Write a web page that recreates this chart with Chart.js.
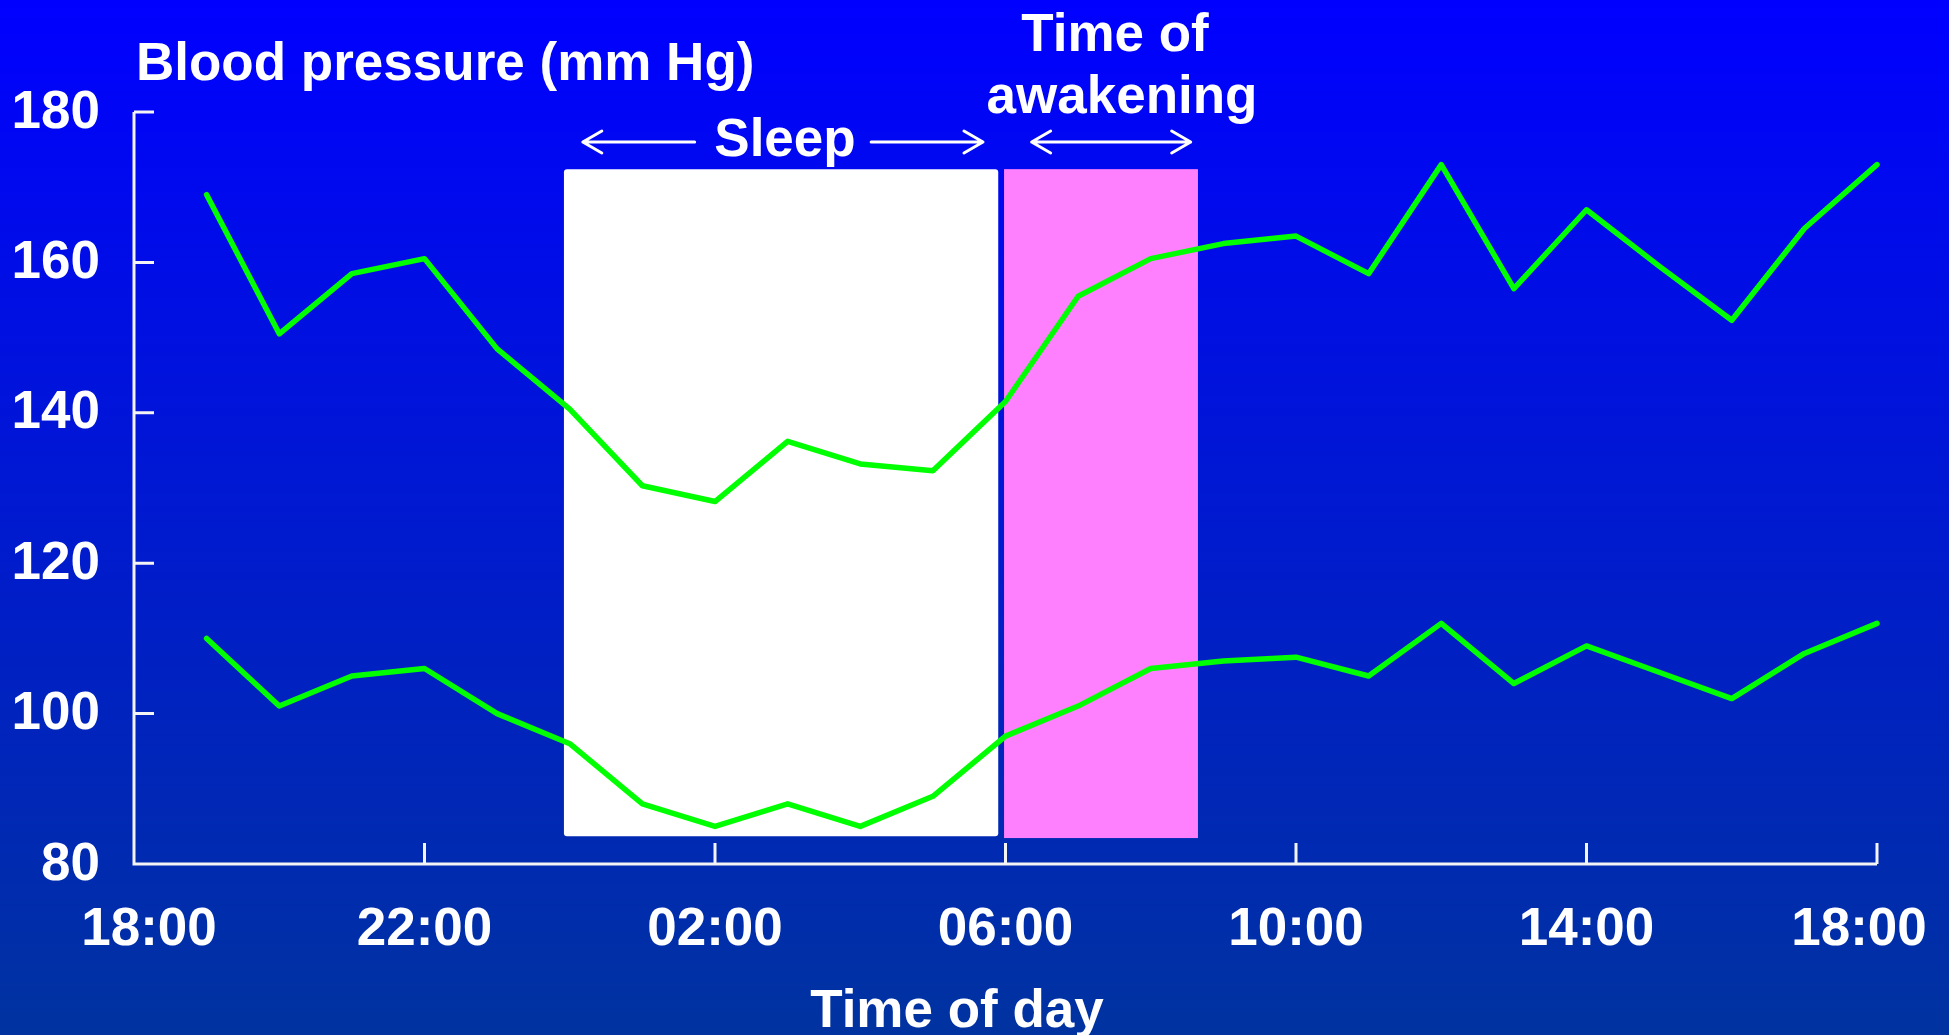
<!DOCTYPE html>
<html>
<head>
<meta charset="utf-8">
<script src="https://cdn.jsdelivr.net/npm/chart.js@4"></script>
<style>
  html, body { margin: 0; padding: 0; overflow: hidden; background: #0000ff; }
  #bp { display: block; }
</style>
</head>
<body>
<canvas id="bp" width="1949" height="1035"></canvas>
<script>
// hours after 18:00, one reading per hour
const hours = [1, 2, 3, 4, 5, 6, 7, 8, 9, 10, 11, 12, 13, 14, 15, 16, 17, 18, 19, 20, 21, 22, 23, 24];
const systolic = [169, 150.5, 158.5, 160.5, 148.5, 140.5, 130.3, 128.2, 136.2, 133.2, 132.3, 141.5, 155.5, 160.5, 162.5, 163.5, 158.5, 173, 156.5, 167, 159.5, 152.3, 164.5, 173];
const diastolic = [110, 101, 105, 106, 100, 96, 88, 85, 88, 85, 89, 97, 101, 106, 107, 107.5, 105, 112, 104, 109, 105.5, 102, 108, 112];

const xTicks = [0, 4, 8, 12, 16, 20, 24];
const xTickLabels = ["18:00", "22:00", "02:00", "06:00", "10:00", "14:00", "18:00"];
const yTicks = [80, 100, 120, 140, 160, 180];

// shaded periods [start hour, end hour], [low, high] in mm Hg
const sleepBand = [5.92, 11.9];
const sleepRange = [83.7, 172.4];
const wakeBand = [11.98, 14.65];
const wakeRange = [83.45, 172.4];

const FONT = "bold 53px 'Liberation Sans', Arial, sans-serif";

function arrow(ctx, x1, x2, y, headLeft, headRight) {
  ctx.beginPath();
  ctx.moveTo(x1, y);
  ctx.lineTo(x2, y);
  if (headLeft) {
    ctx.moveTo(x1 + 19, y - 11);
    ctx.lineTo(x1, y);
    ctx.lineTo(x1 + 19, y + 11);
  }
  if (headRight) {
    ctx.moveTo(x2 - 19, y - 11);
    ctx.lineTo(x2, y);
    ctx.lineTo(x2 - 19, y + 11);
  }
  ctx.stroke();
}

const drawBits = {
  id: "drawBits",
  beforeDraw(chart) {
    const ctx = chart.ctx;
    const g = ctx.createLinearGradient(0, 0, 0, chart.height);
    g.addColorStop(0, "#0000ff");
    g.addColorStop(1, "#0033a0");
    ctx.save();
    ctx.fillStyle = g;
    ctx.fillRect(0, 0, chart.width, chart.height);
    ctx.restore();
  },
  beforeDatasetsDraw(chart) {
    const ctx = chart.ctx;
    const x = chart.scales.x, y = chart.scales.y;
    ctx.save();
    // sleep and awakening boxes
    ctx.fillStyle = "#ffffff";
    ctx.beginPath();
    ctx.roundRect(x.getPixelForValue(sleepBand[0]), y.getPixelForValue(sleepRange[1]),
      x.getPixelForValue(sleepBand[1]) - x.getPixelForValue(sleepBand[0]),
      y.getPixelForValue(sleepRange[0]) - y.getPixelForValue(sleepRange[1]), 3);
    ctx.fill();
    ctx.fillStyle = "#ff80ff";
    ctx.fillRect(x.getPixelForValue(wakeBand[0]), y.getPixelForValue(wakeRange[1]),
      x.getPixelForValue(wakeBand[1]) - x.getPixelForValue(wakeBand[0]),
      y.getPixelForValue(wakeRange[0]) - y.getPixelForValue(wakeRange[1]));

    // axes, ticks pointing inward
    const left = x.getPixelForValue(0), right = x.getPixelForValue(24);
    const top = y.getPixelForValue(180), bottom = y.getPixelForValue(80);
    ctx.strokeStyle = "#f4f4f4";
    ctx.lineWidth = 3;
    ctx.beginPath();
    ctx.moveTo(left, top);
    ctx.lineTo(left, bottom);
    ctx.lineTo(right, bottom);
    yTicks.forEach(v => {
      const py = y.getPixelForValue(v);
      ctx.moveTo(left, py);
      ctx.lineTo(left + 20, py);
    });
    xTicks.forEach(v => {
      const px = x.getPixelForValue(v);
      ctx.moveTo(px, bottom);
      ctx.lineTo(px, bottom - 21);
    });
    ctx.stroke();
    ctx.restore();
  },
  afterDraw(chart) {
    const ctx = chart.ctx;
    const x = chart.scales.x, y = chart.scales.y;
    ctx.save();
    ctx.fillStyle = "#ffffff";
    ctx.font = FONT;

    // y tick labels
    ctx.textAlign = "right";
    ctx.textBaseline = "middle";
    yTicks.forEach(v => ctx.fillText(String(v), 100, y.getPixelForValue(v) + 1));

    // x tick labels (end ones pulled in a little, as in the slide)
    ctx.textAlign = "center";
    ctx.textBaseline = "alphabetic";
    xTicks.forEach((v, i) => {
      let px = x.getPixelForValue(v);
      if (i === 0) px += 15;
      if (i === xTicks.length - 1) px -= 18;
      ctx.fillText(xTickLabels[i], px, 945);
    });

    ctx.fillText("Time of day", 957, 1027);

    ctx.textAlign = "left";
    ctx.fillText("Blood pressure (mm Hg)", 136, 80);

    ctx.textAlign = "center";
    ctx.fillText("Sleep", 785, 156);
    ctx.fillText("Time of", 1115, 51);
    ctx.fillText("awakening", 1122, 113);

    ctx.strokeStyle = "#ffffff";
    ctx.lineWidth = 3;
    ctx.lineCap = "round";
    ctx.lineJoin = "round";
    const ay = 142;
    arrow(ctx, x.getPixelForValue(6.18), x.getPixelForValue(7.72), ay, true, false);
    arrow(ctx, x.getPixelForValue(10.15), x.getPixelForValue(11.69), ay, false, true);
    arrow(ctx, x.getPixelForValue(12.36), x.getPixelForValue(14.55), ay, true, true);
    ctx.restore();
  }
};

const lineStyle = {
  borderColor: "#00ff00",
  borderWidth: 5.5,
  pointRadius: 0,
  tension: 0,
  fill: false,
  clip: false,
  borderCapStyle: "round",
  borderJoinStyle: "round"
};

new Chart(document.getElementById("bp"), {
  type: "line",
  data: {
    datasets: [
      Object.assign({ label: "Systolic", data: hours.map((h, i) => ({ x: h, y: systolic[i] })) }, lineStyle),
      Object.assign({ label: "Diastolic", data: hours.map((h, i) => ({ x: h, y: diastolic[i] })) }, lineStyle)
    ]
  },
  options: {
    responsive: false,
    animation: false,
    devicePixelRatio: 1,
    layout: { padding: { left: 134, right: 72, top: 112, bottom: 171 } },
    plugins: { legend: { display: false }, tooltip: { enabled: false }, title: { display: false } },
    scales: {
      x: { type: "linear", min: 0, max: 24, display: false },
      y: { min: 80, max: 180, display: false }
    }
  },
  plugins: [drawBits]
});
</script>
</body>
</html>
